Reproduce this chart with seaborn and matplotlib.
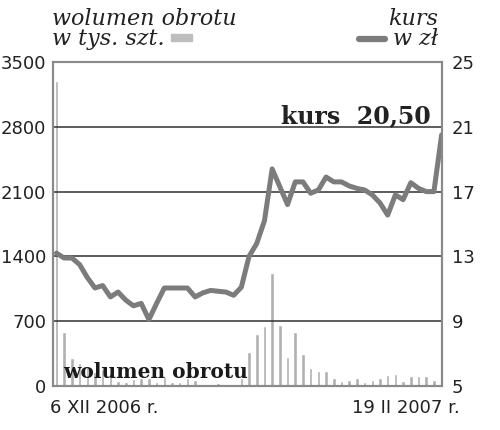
import pandas as pd
import seaborn as sns
import matplotlib.pyplot as plt
from matplotlib.patches import Rectangle
from matplotlib.lines import Line2D

# sesje od 6 XII 2006 do 19 II 2007
dzien = list(range(51))

# wolumen obrotu w tys. szt.
wolumen = [3300, 580, 300, 250, 200, 150, 180, 120, 57, 47,
           75, 86, 90, 47, 101, 47, 40, 86, 68, 25,
           25, 32, 22, 10, 90, 367, 562, 648, 1220, 659,
           313, 583, 346, 194, 165, 165, 90, 54, 65, 86,
           47, 61, 83, 119, 130, 54, 112, 112, 112, 65,
           920]

# kurs w zl
kurs = [13.2, 12.9, 12.9, 12.5, 11.7, 11.05, 11.2, 10.5, 10.8, 10.3,
        9.95, 10.1, 9.1, 10.1, 11.05, 11.05, 11.05, 11.05, 10.5, 10.75,
        10.9, 10.85, 10.8, 10.6, 11.1, 13.0, 13.8, 15.2, 18.4, 17.3,
        16.2, 17.6, 17.6, 16.9, 17.1, 17.9, 17.6, 17.6, 17.35, 17.2,
        17.1, 16.8, 16.3, 15.55, 16.8, 16.5, 17.55, 17.2, 17.0, 17.0,
        20.5]

left_ticks = [0, 700, 1400, 2100, 2800, 3500]
right_ticks = [5, 9, 13, 17, 21, 25]

df = pd.DataFrame({'dzien': dzien, 'wolumen': wolumen, 'kurs': kurs})

sns.set_style('white')
plt.rcParams['font.family'] = ['DejaVu Sans']

bar_col = '#b0b0b0'
line_col = '#7c7c7c'
spine_col = '#8a8a8a'
txt_col = '#222222'

fig = plt.figure(figsize=(5, 4.3), dpi=100)
ax = fig.add_axes([0.106, 0.1023, 0.778, 0.7535])

sns.barplot(data=df, x='dzien', y='wolumen', color=bar_col, width=0.46,
            native_scale=True, saturation=1, ax=ax, zorder=1)
ax.set_xlim(-0.45, 50.05)
ax.set_ylim(0, 3500)
ax.set_yticks(left_ticks)
ax.set_xticks([])
ax.set_xlabel('')
ax.set_ylabel('')
ax.tick_params(axis='y', length=0, pad=5, labelsize=13, labelcolor=txt_col)

for v in left_ticks[1:-1]:
    ax.axhline(v, color='#303030', lw=1.1, zorder=2)

ax2 = ax.twinx()
sns.lineplot(data=df, x='dzien', y='kurs', color=line_col, lw=3.6,
             ax=ax2, solid_joinstyle='round', solid_capstyle='round')
ax2.set_ylim(5, 25)
ax2.set_yticks(right_ticks)
ax2.set_ylabel('')
ax2.set_xlabel('')
ax2.tick_params(axis='y', length=0, pad=7, labelsize=13, labelcolor=txt_col)

for a in (ax, ax2):
    for s in a.spines.values():
        s.set_color(spine_col)
        s.set_linewidth(1.5)

ax2.text(0.972, 0.81, 'kurs  20,50', transform=ax2.transAxes, ha='right',
         va='baseline', fontsize=17, fontweight='bold', family='DejaVu Serif',
         color=txt_col)
ax2.text(0.026, 0.025, 'wolumen obrotu', transform=ax2.transAxes, ha='left',
         va='baseline', fontsize=14.5, fontweight='bold', family='DejaVu Serif',
         color='#1a1a1a', zorder=5)

# naglowki
def fx(x):
    return x / 500


def fy(y):
    return 1 - y / 430


fig.text(fx(52), fy(25), 'wolumen obrotu', fontsize=16, style='italic',
         family='DejaVu Serif', color=txt_col, va='baseline')
fig.text(fx(52), fy(45), 'w tys. szt.', fontsize=16, style='italic',
         family='DejaVu Serif', color=txt_col, va='baseline')
fig.patches.append(Rectangle((fx(171), fy(41)), fx(21), 7 / 430,
                             transform=fig.transFigure, color='#bdbdbd'))

fig.text(fx(438), fy(25), 'kurs', fontsize=16, style='italic',
         family='DejaVu Serif', color=txt_col, va='baseline', ha='right')
fig.text(fx(438), fy(45), 'w zł', fontsize=16, style='italic',
         family='DejaVu Serif', color=txt_col, va='baseline', ha='right')
fig.lines.append(Line2D([fx(359), fx(385)], [fy(39), fy(39)],
                        transform=fig.transFigure, color=line_col, lw=4.5,
                        solid_capstyle='round'))

fig.text(fx(50), fy(413), '6 XII 2006 r.', fontsize=13, color=txt_col,
         va='baseline')
fig.text(fx(460), fy(413), '19 II 2007 r.', fontsize=13, color=txt_col,
         va='baseline', ha='right')

fig.savefig('out.png', dpi=100)
